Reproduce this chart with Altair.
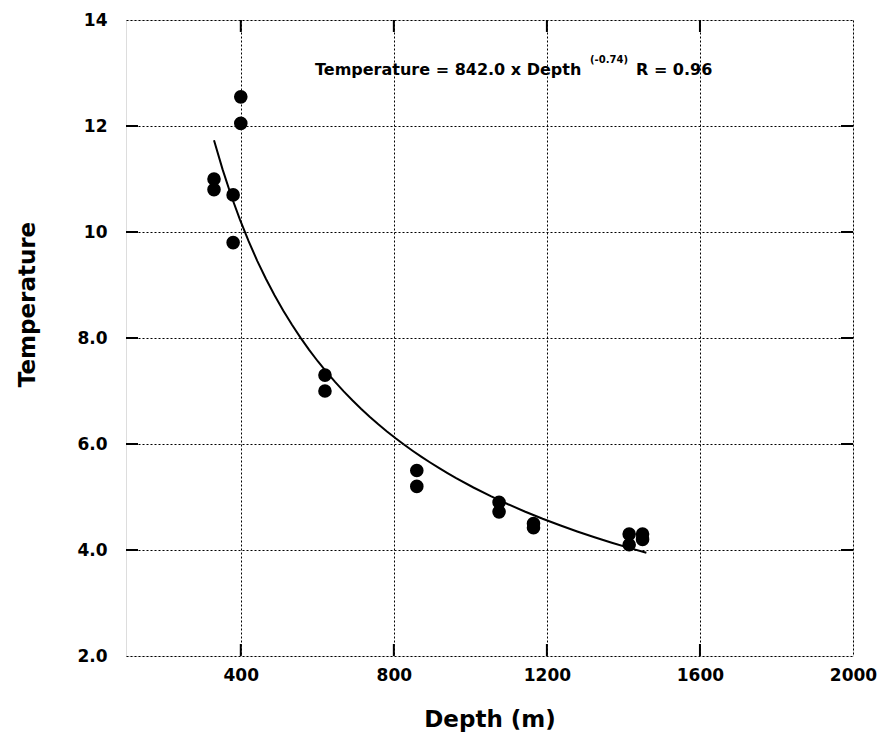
import altair as alt
import pandas as pd

depth = [330, 330, 400, 400, 380, 380, 620, 620, 860, 860, 1075, 1075, 1165, 1165, 1415, 1415, 1450, 1450]
temp = [11.0, 10.8, 12.55, 12.05, 10.7, 9.8, 7.3, 7.0, 5.5, 5.2, 4.9, 4.72, 4.5, 4.42, 4.3, 4.1, 4.3, 4.2]
x_ticks = [400, 800, 1200, 1600, 2000]
y_ticks = [2, 4, 6, 8, 10, 12, 14]
x_inner = [400, 800, 1200, 1600]
y_inner = [4, 6, 8, 10, 12]

FONT = "DejaVu Sans"
W, H = 727, 636

df = pd.DataFrame({"depth": depth, "temp": temp})
xs = alt.Scale(domain=[100, 2000], nice=False, zero=False)
ys = alt.Scale(domain=[2, 14], nice=False, zero=False)

base = alt.Chart(df)

points = base.mark_circle(size=185, color="black", opacity=1).encode(
    x=alt.X("depth:Q", scale=xs, axis=alt.Axis(
        values=x_ticks, format="d", title="Depth (m)", ticks=False,
        labelFontSize=17, labelPadding=11, labelFont=FONT, labelFontWeight="bold",
        labelColor="black", titleFont=FONT, titleFontSize=23, titleFontWeight="bold",
        titleColor="black", titleX=W / 2, titleY=63, titleBaseline="middle",
        grid=True, gridDash=[2, 2], gridColor="black", gridOpacity=1, gridWidth=1,
        domain=False, labelFlush=False)),
    y=alt.Y("temp:Q", scale=ys, axis=alt.Axis(
        values=y_ticks, labelExpr="datum.value >= 10 ? format(datum.value, 'd') : format(datum.value, '.1f')",
        title="Temperature", ticks=False,
        labelFontSize=17, labelPadding=19, labelFont=FONT, labelFontWeight="bold",
        labelColor="black", titleFont=FONT, titleFontSize=23, titleFontWeight="bold",
        titleColor="black", titleX=-99, titleY=284, titleAngle=270, titleAlign="center",
        titleBaseline="middle", grid=True, gridDash=[2, 2], gridColor="black",
        gridOpacity=1, gridWidth=1, domain=False, labelFlush=False)),
)

fit = base.transform_regression("depth", "temp", method="pow", extent=[330, 1460]).mark_line(
    color="black", strokeWidth=2).encode(x=alt.X("depth:Q", scale=xs), y=alt.Y("temp:Q", scale=ys))

xt = pd.DataFrame({"v": x_inner})
yt = pd.DataFrame({"v": y_inner})
TW = 2
tick_bottom = alt.Chart(xt).mark_rule(color="black", strokeWidth=TW).encode(
    x=alt.X("v:Q", scale=xs), y=alt.value(H), y2=alt.value(H - 12))
tick_top = alt.Chart(xt).mark_rule(color="black", strokeWidth=TW).encode(
    x=alt.X("v:Q", scale=xs), y=alt.value(0), y2=alt.value(12))
tick_left = alt.Chart(yt).mark_rule(color="black", strokeWidth=TW).encode(
    y=alt.Y("v:Q", scale=ys), x=alt.value(0), x2=alt.value(12))
tick_right = alt.Chart(yt).mark_rule(color="black", strokeWidth=TW).encode(
    y=alt.Y("v:Q", scale=ys), x=alt.value(W), x2=alt.value(W - 12))

ann_df = pd.DataFrame({"a": [0]})
ann1 = alt.Chart(ann_df).mark_text(align="left", baseline="middle", font=FONT, fontWeight="bold",
                                   fontSize=16, color="black").encode(
    x=alt.value(189), y=alt.value(50), text=alt.value("Temperature = 842.0 x Depth"))
ann2 = alt.Chart(ann_df).mark_text(align="left", baseline="middle", font=FONT, fontWeight="bold",
                                   fontSize=10, color="black").encode(
    x=alt.value(464), y=alt.value(40), text=alt.value("(-0.74)"))
ann3 = alt.Chart(ann_df).mark_text(align="left", baseline="middle", font=FONT, fontWeight="bold",
                                   fontSize=16, color="black").encode(
    x=alt.value(510), y=alt.value(50), text=alt.value("R = 0.96"))

chart = alt.layer(points, fit, tick_bottom, tick_top, tick_left, tick_right, ann1, ann2, ann3).properties(
    width=W, height=H,
    autosize=alt.AutoSizeParams(type="none"),
    padding={"left": 126, "top": 20, "right": 28, "bottom": 86},
).configure_view(stroke="black", strokeWidth=2).configure(background="white")

chart.save("out.html", embed_options={"renderer": "svg", "actions": False})
